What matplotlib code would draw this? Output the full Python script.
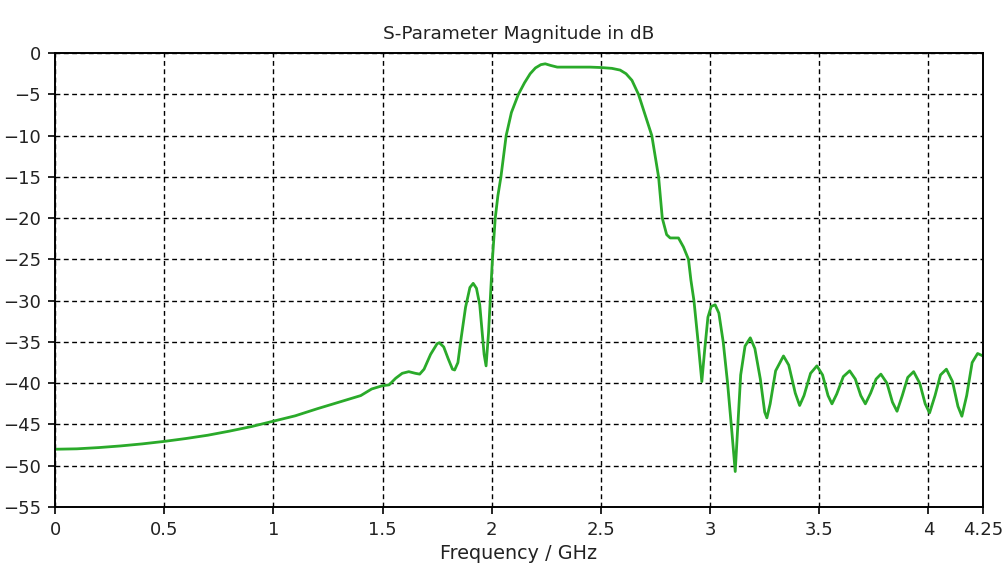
import matplotlib
matplotlib.use('Agg')
import matplotlib.pyplot as plt

# S21 magnitude
freq = [0.00, 0.10, 0.20, 0.30, 0.40, 0.50, 0.60, 0.70, 0.80, 0.90,
        1.00, 1.10, 1.20, 1.30, 1.35, 1.40, 1.45, 1.50, 1.53, 1.56,
        1.59, 1.62, 1.65, 1.67, 1.69, 1.72, 1.75, 1.76, 1.78, 1.80,
        1.82, 1.83, 1.845, 1.86, 1.88, 1.90, 1.915, 1.93, 1.945, 1.955,
        1.965, 1.974, 1.985, 1.995, 2.003, 2.016, 2.028, 2.042, 2.066, 2.09,
        2.122, 2.15, 2.176, 2.20, 2.225, 2.245, 2.27, 2.30, 2.35, 2.40,
        2.45, 2.50, 2.55, 2.588, 2.615, 2.642, 2.672, 2.70, 2.733, 2.764,
        2.781, 2.801, 2.817, 2.855, 2.878, 2.901, 2.912, 2.926, 2.945, 2.962,
        2.975, 2.99, 3.005, 3.023, 3.04, 3.06, 3.08, 3.10, 3.115, 3.125,
        3.14, 3.16, 3.184, 3.205, 3.23, 3.25, 3.26, 3.275, 3.30, 3.336,
        3.36, 3.39, 3.41, 3.43, 3.46, 3.489, 3.515, 3.54, 3.558, 3.58,
        3.61, 3.639, 3.665, 3.69, 3.711, 3.735, 3.76, 3.782, 3.81, 3.835,
        3.856, 3.88, 3.905, 3.932, 3.96, 3.985, 4.005, 4.03, 4.055, 4.082,
        4.11, 4.135, 4.153, 4.175, 4.20, 4.225, 4.25]
s21 = [-48.0, -47.95, -47.8, -47.6, -47.35, -47.05, -46.7, -46.3, -45.8, -45.25,
       -44.6, -43.95, -43.1, -42.3, -41.9, -41.5, -40.7, -40.3, -40.2, -39.4,
       -38.8, -38.6, -38.8, -38.9, -38.3, -36.5, -35.2, -35.1, -35.6, -37.0,
       -38.3, -38.4, -37.5, -34.5, -30.8, -28.4, -27.9, -28.5, -30.5, -33.5,
       -36.5, -37.9, -34.0, -29.0, -25.0, -20.0, -17.3, -15.0, -10.0, -7.2,
       -5.0, -3.6, -2.5, -1.8, -1.4, -1.3, -1.5, -1.7, -1.7, -1.7,
       -1.7, -1.75, -1.85, -2.06, -2.5, -3.3, -5.0, -7.3, -10.0, -15.0,
       -20.0, -22.0, -22.4, -22.4, -23.5, -25.0, -27.5, -30.0, -35.0, -39.8,
       -36.0, -32.0, -30.7, -30.5, -31.5, -35.0, -40.0, -46.0, -50.7, -46.0,
       -39.0, -35.5, -34.5, -35.8, -39.5, -43.5, -44.2, -42.5, -38.5, -36.7,
       -37.8, -41.2, -42.7, -41.5, -38.8, -37.9, -39.0, -41.5, -42.5, -41.3,
       -39.2, -38.5, -39.5, -41.5, -42.5, -41.2, -39.5, -38.9, -40.0, -42.3,
       -43.4, -41.5, -39.3, -38.6, -40.0, -42.5, -43.6, -41.5, -39.0, -38.3,
       -39.8, -42.8, -44.0, -41.5, -37.5, -36.4, -36.7]

xticks = [0, 0.5, 1, 1.5, 2, 2.5, 3, 3.5, 4, 4.25]
xtick_labels = ['0', '0.5', '1', '1.5', '2', '2.5', '3', '3.5', '4', '4.25']
yticks = list(range(-55, 1, 5))

fig = plt.figure(figsize=(10.06, 5.77), dpi=100)
ax = fig.add_axes([0.0547, 0.1213, 0.9225, 0.7867])

ax.plot(freq, s21, color='#2aaa2a', lw=2.0)

ax.set_xlim(0, 4.25)
ax.set_ylim(-55, 0)
ax.set_xticks(xticks)
ax.set_xticklabels(xtick_labels)
ax.set_yticks(yticks)
ax.grid(True, color='black', linestyle=(0, (3.5, 2.5)), lw=1.0)
ax.tick_params(direction='out', length=5, width=1.2, labelsize=13,
               labelcolor='#222222', pad=5)
for sp in ax.spines.values():
    sp.set_linewidth(1.4)

ax.set_title('S-Parameter Magnitude in dB', fontsize=13.3, color='#222222', pad=10)
ax.set_xlabel('Frequency / GHz', fontsize=13.8, color='#222222', labelpad=4)

fig.savefig('out.png', dpi=100)
